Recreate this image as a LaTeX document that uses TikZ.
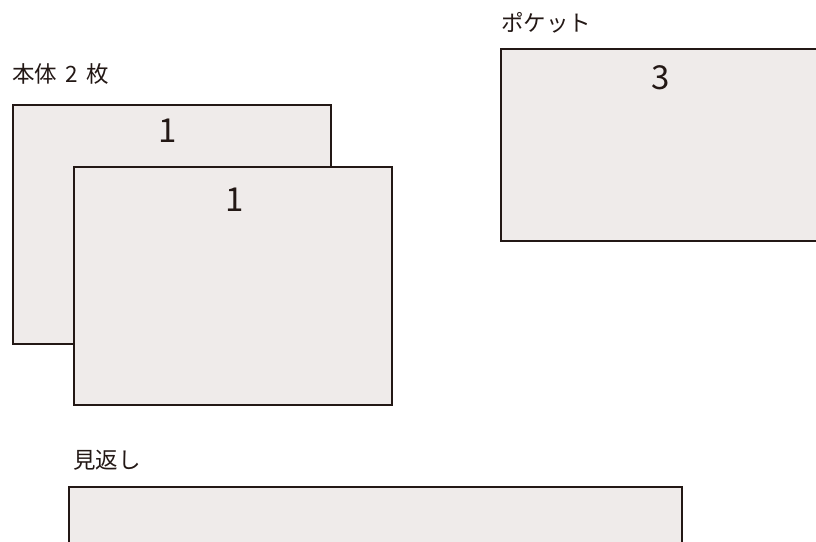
\documentclass[tikz,border=0pt]{standalone}
\usepackage{fontspec}
\setmainfont{Noto Sans CJK JP}
\definecolor{panelfill}{HTML}{EFEBEA}
\definecolor{inkline}{HTML}{231815}
\tikzset{
  panel/.style={draw=inkline, fill=panelfill, line width=1.8pt, rectangle, inner sep=0pt, anchor=north west},
  numlabel/.style={text=inkline, font=\fontsize{33}{36}\selectfont, inner sep=0pt},
  caption/.style={text=inkline, font=\fontsize{22.5}{26}\selectfont, inner sep=0pt, anchor=west}
}
\begin{document}
\begin{tikzpicture}[x=1pt,y=-1pt]
\useasboundingbox (0,0) rectangle (816,541);
\clip (0,0) rectangle (816,541);
% 本体 2 枚
\node[caption] (lbody) at (12,74) {本体\hspace{0.38em}2\hspace{0.38em}枚};
\node[panel, minimum width=318pt, minimum height=239pt] (back) at (12,104) {};
\node[numlabel] (nback) at (168,130.5) {1};
\node[panel, minimum width=318pt, minimum height=238pt] (front) at (73,166) {};
\node[numlabel] (nfront) at (235,199.5) {1};
% ポケット
\node[caption] (lpocket) at (501,23) {ポケット};
\node[panel, minimum width=330pt, minimum height=192pt] (pocket) at (500,48) {};
\node[numlabel] (npocket) at (661,78) {3};
% 見返し
\node[caption] (lfacing) at (73,460) {見返し};
\node[panel, minimum width=613pt, minimum height=80pt] (facing) at (68,486) {};
\end{tikzpicture}
\end{document}
